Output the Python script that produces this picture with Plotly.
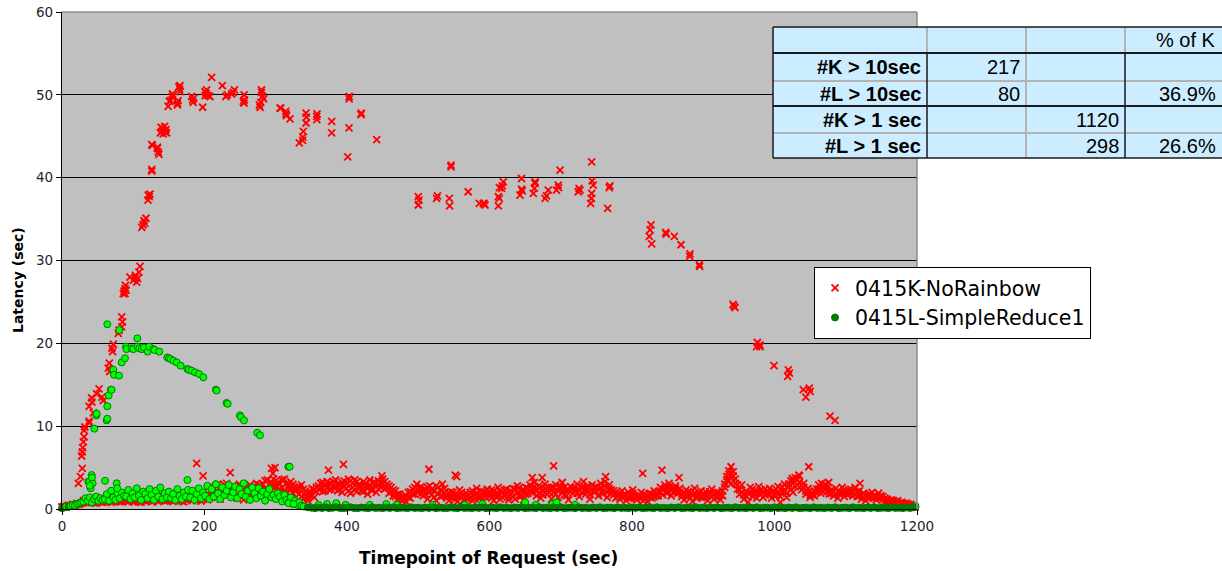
import plotly.graph_objects as go

# ---------------- data: 0415K-NoRainbow (red) ----------------
k_arc_x = [23, 26, 28.5, 27.6, 28.5, 29, 30, 31, 31, 32, 38, 38, 44, 38, 41.6, 42, 48.7, 52, 58, 56,
           65, 66.4, 67, 70, 72, 71, 79, 80, 83.8, 83.8, 85, 86, 88.4, 88.4, 89, 87, 90, 95.4, 100, 102.5, 104.8, 106, 103, 109.5, 108,
           112, 113.7, 115, 117.9, 116, 120.7, 121, 122.5, 123.5,
           126, 126, 127, 126, 133.8, 134, 135, 136,
           138, 140, 141, 142, 143, 144, 145, 146, 139, 147,
           149, 150.6, 152.5, 155, 155, 162, 163, 162, 164, 165.6, 165, 166,
           182, 183.4, 184, 185, 197.4, 200.7, 202, 201, 203, 205, 207.7, 210, 225, 230, 232, 240.4, 242, 238, 254.5, 255.4, 255.7, 256, 277, 278, 279, 280, 280, 281.4, 283,
           306, 307, 314, 314.4, 315, 320,
           333, 337.8, 338, 338.7, 342.5, 342.5, 343, 357.5, 357.7, 358, 378.5, 378.5, 401, 402.8, 403, 403, 419.6, 420, 441.7,
           500, 500, 501, 525.8, 527, 543.6, 544, 546, 546, 570, 585.7, 592, 593.7, 591.3, 612.4, 613.8, 612.4, 613.8, 617, 619.4, 618,
           645, 642.8, 645, 646, 661.5, 664, 664, 663, 678, 682.5, 680, 694, 696.5, 699, 697, 724.6, 725.6, 727, 743.4, 745.6, 743.4, 742, 743, 744, 768, 769, 765.8,
           826.7, 825.3, 824.3, 827.6, 847.3, 848, 859.4, 868.8, 881.4, 881, 894.5, 895, 941.8, 944.6, 943, 975, 976, 979.6, 979.6, 999.3, 1019.4, 1018.5, 1021, 1040.4, 1048.8, 1050, 1044, 1077.9, 1085]
k_arc_y = [3.1, 3.9, 4.9, 6.4, 6.9, 7.4, 8.1, 8.7, 9.5, 9.9, 10.4, 10.6, 11.6, 12.4, 13.4, 12.9, 13.9, 14.5, 13.1, 13.5,
           17.0, 17.6, 16.6, 19.4, 19.9, 19.0, 21.2, 21.6, 22.0, 23.2, 22.6, 26.0, 26.0, 26.6, 27.0, 26.3, 26.4, 28.0, 27.6, 27.9, 27.4, 27.8, 28.2, 29.3, 28.6,
           34.0, 34.3, 34.8, 35.1, 34.5, 37.3, 37.9, 37.7, 38.0,
           40.8, 41.0, 43.9, 44.0, 43.5, 43.7, 43.1, 42.8,
           45.4, 45.6, 45.9, 45.3, 45.7, 46.2, 45.5, 45.8, 46.1, 45.4,
           48.6, 49.2, 49.3, 49.8, 50.1, 49.0, 49.3, 48.8, 51.0, 51.1, 50.7, 50.4,
           49.8, 49.4, 49.1, 49.6, 48.5, 50.4, 50.2, 49.9, 50.6, 49.9, 49.8, 52.1, 51.1, 49.8, 50.0, 50.3, 50.6, 50.1, 49.2, 49.0, 50.0, 49.4, 48.8, 48.5, 49.1, 50.3, 50.6, 49.8, 49.5,
           48.4, 48.4, 48.0, 47.7, 47.5, 47.1,
           44.2, 44.5, 44.9, 45.6, 46.6, 47.8, 47.3, 47.4, 47.0, 47.7, 46.8, 45.4, 42.5, 46.0, 49.5, 49.8, 47.6, 47.8, 44.6,
           37.7, 36.7, 37.3, 37.5, 37.8, 37.5, 36.6, 41.3, 41.5, 38.3, 36.9, 36.9, 36.7, 36.9, 36.6, 37.5, 37.7, 38.8, 38.7, 39.5, 39.0,
           39.9, 37.9, 38.6, 38.4, 38.1, 39.3, 39.5, 38.7, 37.5, 38.5, 37.8, 38.5, 39.1, 40.9, 38.8, 38.3, 38.7, 38.5, 41.9, 39.1, 38.1, 36.9, 37.5, 39.6, 38.8, 39.0, 36.3,
           34.3, 33.7, 32.9, 32.0, 33.4, 33.2, 32.9, 31.9, 30.8, 30.5, 29.5, 29.3, 24.7, 24.3, 24.5, 19.6, 20.1, 19.6, 19.8, 17.3, 16.8, 16.0, 16.4, 14.4, 14.6, 14.2, 13.5, 11.2, 10.7]

k_band_x = [0, 3, 6, 9, 12, 15, 18, 21, 24, 27,
            30, 33, 36, 39, 42, 45, 48, 51, 54, 57,
            60, 63, 66, 69, 72, 75, 78, 81, 84, 87,
            90, 93, 96, 99, 102, 105, 108, 111, 114, 117,
            120, 123, 126, 129, 132, 135, 138, 141, 144, 147,
            150, 153, 156, 159, 162, 165, 168, 171, 174, 177,
            180, 183, 186, 189, 192, 195, 198, 201, 204, 207,
            210, 213, 216, 219, 222, 225, 228, 231, 234, 237,
            240, 243, 246, 249, 252, 255, 258, 261, 264, 267,
            270, 273, 276, 279, 282, 285, 288, 291, 294, 297,
            300, 303, 306, 309, 312, 315, 318, 321, 324, 327,
            330, 333, 336, 339, 342, 345, 348, 351, 354, 357,
            360, 363, 366, 369, 372, 375, 378, 381, 384, 387,
            390, 393, 396, 399, 402, 405, 408, 411, 414, 417,
            420, 423, 426, 429, 432, 435, 438, 441, 444, 447,
            450, 453, 456, 459, 462, 465, 468, 471, 474, 477,
            480, 483, 486, 489, 492, 495, 498, 501, 504, 507,
            510, 513, 516, 519, 522, 525, 528, 531, 534, 537,
            540, 543, 546, 549, 552, 555, 558, 561, 564, 567,
            570, 573, 576, 579, 582, 585, 588, 591, 594, 597,
            600, 603, 606, 609, 612, 615, 618, 621, 624, 627,
            630, 633, 636, 639, 642, 645, 648, 651, 654, 657,
            660, 663, 666, 669, 672, 675, 678, 681, 684, 687,
            690, 693, 696, 699, 702, 705, 708, 711, 714, 717,
            720, 723, 726, 729, 732, 735, 738, 741, 744, 747,
            750, 753, 756, 759, 762, 765, 768, 771, 774, 777,
            780, 783, 786, 789, 792, 795, 798, 801, 804, 807,
            810, 813, 816, 819, 822, 825, 828, 831, 834, 837,
            840, 843, 846, 849, 852, 855, 858, 861, 864, 867,
            870, 873, 876, 879, 882, 885, 888, 891, 894, 897,
            900, 903, 906, 909, 912, 915, 918, 921, 924, 927,
            930, 933, 936, 939, 942, 945, 948, 951, 954, 957,
            960, 963, 966, 969, 972, 975, 978, 981, 984, 987,
            990, 993, 996, 999, 1002, 1005, 1008, 1011, 1014, 1017,
            1020, 1023, 1026, 1029, 1032, 1035, 1038, 1041, 1044, 1047,
            1050, 1053, 1056, 1059, 1062, 1065, 1068, 1071, 1074, 1077,
            1080, 1083, 1086, 1089, 1092, 1095, 1098, 1101, 1104, 1107,
            1110, 1113, 1116, 1119, 1122, 1125, 1128, 1131, 1134, 1137,
            1140, 1143, 1146, 1149, 1152, 1155, 1158, 1161, 1164, 1167,
            1170, 1173, 1176, 1179, 1182, 1185, 1188, 1191, 1194, 1197]
k_band_y = [0.2, 0.3, 0.25, 0.4, 0.35, 0.5, 0.45, 0.6, 0.55, 0.7,
            0.75, 1.1, 0.9, 1.2, 0.8, 1.0, 0.7, 1.15, 0.85, 1.05,
            0.9, 1.25, 1.0, 0.8, 1.2, 0.95, 1.3, 0.85, 1.1, 1.0,
            1.2, 0.85, 1.35, 1.0, 0.9, 1.3, 1.1, 0.8, 1.25, 0.95,
            1.0, 1.5, 0.85, 1.3, 1.6, 0.9, 1.2, 1.45, 0.95, 1.35,
            1.1, 1.6, 0.9, 1.4, 1.7, 1.0, 1.3, 0.85, 1.55, 1.2,
            1.5, 1.0, 1.8, 1.2, 1.6, 0.95, 1.9, 1.3, 1.1, 1.7,
            1.4, 2.6, 1.8, 3.0, 1.2, 2.2, 2.9, 1.6, 2.5, 2.0,
            2.8, 1.5, 2.3, 3.0, 1.8, 1.1, 2.6, 2.0, 2.9, 1.4,
            2.2, 3.1, 1.6, 2.7, 2.0, 3.4, 2.4, 1.9, 3.2, 2.8,
            3.4, 2.2, 3.0, 2.6, 3.6, 2.0, 2.9, 3.3, 1.9, 2.5,
            2.6, 1.8, 2.9, 1.2, 2.2, 1.0, 1.6, 2.5, 1.4, 2.1,
            2.4, 3.1, 2.1, 2.8, 3.3, 2.3, 3.0, 2.6, 3.5, 2.2,
            2.9, 2.0, 3.4, 2.5, 3.6, 1.9, 3.1, 2.3, 3.3, 2.7,
            2.2, 3.3, 2.7, 1.8, 3.5, 2.4, 3.0, 2.0, 3.4, 2.6,
            3.6, 2.4, 3.0, 1.9, 2.6, 1.6, 2.2, 1.2, 1.8, 1.0,
            1.5, 0.9, 2.0, 1.3, 2.4, 1.8, 3.0, 2.2, 2.7, 1.6,
            2.4, 1.2, 2.8, 1.7, 2.2, 1.0, 2.6, 1.5, 3.0, 2.0,
            1.6, 1.0, 2.1, 1.3, 1.8, 0.9, 2.3, 1.4, 1.1, 1.9,
            1.2, 2.0, 1.0, 1.7, 2.5, 1.3, 2.2, 0.9, 1.8, 2.4,
            1.5, 2.3, 1.0, 1.9, 2.6, 1.2, 2.0, 1.6, 2.4, 1.1,
            1.8, 2.5, 1.2, 2.8, 1.5, 2.2, 1.1, 2.6, 1.9, 2.9,
            2.4, 3.2, 1.6, 2.8, 1.3, 2.2, 3.0, 1.8, 2.5, 1.2,
            2.0, 2.9, 1.4, 2.5, 3.2, 1.7, 2.3, 1.1, 2.7, 1.9,
            2.2, 3.0, 1.5, 2.6, 3.3, 1.8, 2.4, 1.2, 2.9, 2.0,
            2.7, 1.6, 3.1, 2.1, 3.3, 1.4, 2.5, 1.9, 2.2, 1.3,
            1.8, 1.2, 2.2, 1.5, 1.0, 2.0, 1.3, 2.3, 1.6, 1.1,
            1.4, 2.0, 1.0, 1.7, 0.9, 1.9, 1.3, 2.2, 1.6, 2.1,
            2.6, 1.7, 2.9, 2.2, 3.1, 1.6, 2.4, 2.8, 1.9, 2.5,
            1.8, 1.1, 2.3, 1.5, 2.0, 0.9, 2.5, 1.3, 1.7, 2.2,
            1.4, 2.1, 1.0, 1.8, 2.4, 1.2, 2.0, 1.5, 1.1, 2.2,
            2.6, 3.5, 4.2, 3.0, 4.5, 3.6, 2.4, 1.8, 2.9, 1.2,
            2.1, 0.8, 2.6, 1.5, 2.2, 1.3, 2.7, 1.8, 1.4, 2.4,
            1.9, 2.5, 1.3, 2.2, 1.6, 2.7, 0.8, 2.1, 3.0, 1.4,
            2.6, 3.4, 2.0, 3.8, 2.9, 4.0, 2.3, 3.1, 1.8, 2.5,
            1.4, 2.0, 1.6, 2.4, 2.9, 1.9, 2.6, 3.0, 2.2, 1.8,
            2.3, 1.6, 2.5, 1.3, 2.0, 2.6, 1.5, 2.2, 1.8, 2.4,
            2.0, 2.6, 1.5, 2.2, 1.2, 1.9, 1.0, 1.7, 1.4, 2.0,
            1.6, 1.1, 1.9, 1.3, 1.5, 0.9, 1.2, 0.7, 1.1, 0.8,
            0.9, 1.0, 0.6, 0.8, 0.5, 0.7, 0.4, 0.55, 0.3, 0.2]
# a second request at each of the same timepoints (band is two requests deep)
k_band2_y = [0.25, 0.35, 0.3, 0.45, 0.4, 0.55, 0.5, 0.65, 0.6, 0.75,
             1.0, 0.8, 1.15, 0.95, 1.1, 0.75, 1.2, 0.9, 1.0, 0.8,
             1.15, 0.85, 1.05, 1.3, 0.9, 1.2, 1.0, 1.25, 0.9, 1.15,
             1.0, 1.3, 1.1, 0.9, 1.25, 1.05, 0.85, 1.35, 1.0, 1.2,
             1.3, 1.1, 1.55, 1.0, 1.2, 1.4, 1.05, 1.6, 1.25, 1.0,
             1.4, 1.0, 1.3, 1.6, 1.15, 1.5, 0.95, 1.45, 1.1, 1.65,
             1.2, 1.7, 1.4, 1.0, 1.85, 1.5, 1.15, 1.6, 1.75, 1.3,
             2.2, 1.6, 2.8, 2.0, 2.6, 1.7, 2.4, 3.1, 2.1, 2.7,
             2.0, 2.5, 1.3, 2.7, 2.2, 2.9, 1.7, 2.4, 1.9, 2.6,
             2.6, 1.9, 2.9, 2.3, 3.0, 2.5, 3.5, 2.1, 2.7, 3.6,
             2.7, 3.2, 2.4, 3.5, 2.1, 3.1, 2.6, 2.3, 3.0, 2.2,
             2.3, 2.7, 1.5, 2.4, 1.8, 1.3, 2.0, 1.7, 2.3, 2.6,
             2.8, 2.5, 3.2, 2.2, 2.6, 3.1, 2.4, 3.3, 2.7, 3.0,
             2.4, 3.2, 2.7, 3.0, 2.2, 3.4, 2.6, 3.5, 2.1, 3.0,
             2.8, 2.1, 3.1, 2.5, 2.9, 2.2, 3.3, 2.7, 2.4, 3.1,
             3.1, 3.3, 2.6, 2.8, 2.1, 2.3, 1.5, 1.8, 1.3, 1.4,
             1.1, 1.6, 1.4, 2.1, 1.8, 2.6, 2.0, 2.5, 1.8, 2.3,
             1.8, 2.6, 2.0, 2.4, 1.4, 2.8, 1.8, 2.3, 1.6, 2.5,
             1.3, 1.9, 1.5, 2.0, 1.2, 1.7, 1.5, 2.0, 1.6, 1.3,
             1.6, 1.4, 2.2, 1.2, 1.9, 1.6, 1.4, 2.1, 1.5, 1.9,
             1.9, 1.3, 2.2, 1.5, 1.8, 2.2, 1.4, 2.3, 1.8, 1.5,
             2.2, 1.5, 2.4, 1.9, 2.6, 1.6, 2.3, 1.8, 2.5, 2.1,
             2.0, 2.7, 2.2, 1.9, 2.6, 1.7, 2.5, 2.3, 2.0, 2.6,
             2.6, 1.8, 2.2, 2.8, 2.0, 2.6, 1.6, 2.3, 2.1, 2.5,
             2.6, 1.9, 2.3, 2.0, 2.7, 2.2, 2.8, 1.7, 2.4, 2.6,
             2.2, 2.4, 2.6, 1.8, 2.8, 2.0, 2.9, 2.3, 1.7, 2.0,
             1.5, 1.9, 1.4, 1.8, 1.6, 1.3, 1.7, 1.9, 1.3, 1.5,
             1.6, 1.3, 1.8, 1.2, 1.5, 1.4, 1.8, 1.5, 1.9, 1.6,
             2.0, 2.3, 2.5, 1.9, 2.7, 2.3, 2.0, 2.5, 2.2, 2.0,
             1.5, 1.9, 1.6, 2.1, 1.3, 1.7, 1.9, 1.6, 2.0, 1.4,
             1.8, 1.5, 1.6, 2.1, 1.5, 1.8, 1.4, 2.0, 1.7, 1.6,
             3.0, 3.9, 3.4, 3.8, 4.0, 3.1, 2.9, 2.3, 2.0, 1.7,
             1.6, 1.9, 2.0, 2.4, 1.8, 2.1, 1.9, 2.3, 2.0, 1.7,
             2.2, 1.8, 2.0, 1.7, 2.4, 1.9, 1.5, 2.6, 2.2, 1.9,
             3.0, 2.3, 3.4, 2.7, 3.5, 3.2, 2.8, 2.6, 2.2, 2.0,
             1.7, 1.7, 2.2, 2.0, 2.4, 2.3, 2.1, 2.5, 2.6, 2.1,
             1.9, 2.1, 1.8, 2.2, 1.7, 2.0, 2.1, 1.8, 2.3, 1.9,
             1.6, 1.8, 2.1, 1.6, 1.7, 1.4, 1.6, 1.3, 1.8, 1.5,
             1.3, 1.5, 1.4, 1.6, 1.1, 1.3, 0.9, 1.0, 0.9, 1.0,
             0.85, 0.7, 0.75, 0.6, 0.65, 0.5, 0.6, 0.4, 0.35, 0.25]

k_spike_x = [189, 198, 236, 294, 296, 299, 374, 395, 449, 515, 552, 554, 660, 674, 690, 763, 815, 842, 866, 939, 936, 1025, 1034, 1048, 1066, 1076, 1120]
k_spike_y = [5.5, 4.0, 4.4, 4.9, 4.3, 5.0, 4.7, 5.4, 4.0, 4.8, 4.1, 3.9, 3.8, 3.8, 5.2, 3.9, 4.3, 4.7, 3.8, 5.1, 4.6, 3.7, 4.1, 5.1, 3.1, 3.2, 3.1]

# ---------------- data: 0415L-SimpleReduce1 (green) ----------------
l_arc_x = [45.4, 48.3, 48.7, 62.6, 63.6, 63.6, 65.5, 68.6, 69.7, 72, 73, 80, 83.8, 88.4, 63.6, 80.4, 89.8, 90.5, 97.8, 100,
           106, 108.5, 105.7, 112, 115, 120.2, 122.5, 128.2, 130, 136.6, 147.8, 150, 152.5, 156.3, 161, 166.6, 176, 178, 182, 186.7,
           192.3, 198.4, 216, 217, 231, 232.5, 249.8, 251, 255.4, 274, 277.9]
l_arc_y = [9.7, 11.3, 11.5, 10.7, 10.9, 12.4, 13.7, 14.4, 14.4, 16.8, 16.2, 16.1, 17.7, 18.2, 22.3, 21.6, 19.6, 19.3, 19.4, 19.3,
           19.6, 19.4, 20.6, 19.3, 19.5, 19.0, 19.6, 19.3, 19.2, 19.0, 18.3, 18.2, 18.1, 17.9, 17.7, 17.3, 16.9, 16.8, 16.7, 16.5,
           16.3, 15.9, 14.4, 14.3, 12.8, 12.7, 11.3, 11.1, 10.7, 9.2, 8.9]

l_band_x = [0, 3, 6, 9, 12, 15, 18, 21, 24, 27,
            30, 33, 36, 39, 42, 45, 48, 51, 54, 57,
            60, 63, 66, 69, 72, 75, 78, 81, 84, 87,
            90, 93, 96, 99, 102, 105, 108, 111, 114, 117,
            120, 123, 126, 129, 132, 135, 138, 141, 144, 147,
            150, 153, 156, 159, 162, 165, 168, 171, 174, 177,
            180, 183, 186, 189, 192, 195, 198, 201, 204, 207,
            210, 213, 216, 219, 222, 225, 228, 231, 234, 237,
            240, 243, 246, 249, 252, 255, 258, 261, 264, 267,
            270, 273, 276, 279, 282, 285, 288, 291, 294, 297,
            300, 303, 306, 309, 312, 315, 318, 321, 324, 327,
            330, 333, 336, 339]
l_band_y = [0.1, 0.2, 0.3, 0.25, 0.4, 0.5, 0.45, 0.6, 0.7, 0.8,
            0.9, 1.3, 1.0, 1.4, 0.8, 1.2, 1.5, 1.0, 1.3, 1.1,
            1.2, 1.8, 1.0, 2.2, 1.4, 1.1, 1.9, 1.3, 2.0, 1.6,
            1.5, 2.3, 1.2, 1.9, 1.4, 2.5, 1.6, 1.1, 2.1, 1.8,
            1.3, 2.4, 1.7, 1.1, 2.2, 1.5, 2.6, 1.2, 1.9, 1.4,
            2.1, 1.3, 1.8, 1.1, 2.4, 1.6, 1.2, 2.0, 1.5, 2.3,
            1.4, 2.2, 1.1, 1.8, 2.5, 1.3, 2.0, 1.6, 2.8, 1.2,
            2.4, 1.5, 3.0, 1.9, 1.2, 2.6, 1.7, 2.2, 2.9, 1.4,
            2.0, 2.7, 1.3, 2.4, 1.8, 3.1, 1.5, 2.2, 1.1, 2.6,
            1.9, 1.3, 2.5, 1.6, 2.1, 1.0, 1.8, 2.4, 1.4, 1.7,
            1.2, 1.9, 1.5, 0.9, 1.7, 1.1, 0.8, 1.4, 0.6, 1.0,
            0.5, 0.8, 0.4, 0.3]

l_extra_x = [37, 38.3, 40.2, 41.6, 43, 42, 39, 60.4, 76.7, 77.4, 176, 317.6, 319.5, 318, 325,
             360, 372, 385, 398, 432, 455, 470, 520, 565, 590, 650, 665, 688, 694, 720, 1198]
l_extra_y = [3.3, 3.3, 2.5, 4.1, 3.1, 3.8, 2.8, 3.4, 3.1, 2.5, 3.5, 5.1, 5.1, 0.7, 0.6,
             0.5, 0.6, 0.7, 0.5, 0.5, 0.6, 0.5, 0.5, 0.5, 0.6, 0.8, 0.5, 0.6, 0.8, 0.5, 0.3]

l_flat_x = [345, 350, 355, 360, 365, 370, 375, 380, 385, 390,
            395, 400, 405, 410, 415, 420, 425, 430, 435, 440,
            445, 450, 455, 460, 465, 470, 475, 480, 485, 490,
            495, 500, 505, 510, 515, 520, 525, 530, 535, 540,
            545, 550, 555, 560, 565, 570, 575, 580, 585, 590,
            595, 600, 605, 610, 615, 620, 625, 630, 635, 640,
            645, 650, 655, 660, 665, 670, 675, 680, 685, 690,
            695, 700, 705, 710, 715, 720, 725, 730, 735, 740,
            745, 750, 755, 760, 765, 770, 775, 780, 785, 790,
            795, 800, 805, 810, 815, 820, 825, 830, 835, 840,
            845, 850, 855, 860, 865, 870, 875, 880, 885, 890,
            895, 900, 905, 910, 915, 920, 925, 930, 935, 940,
            945, 950, 955, 960, 965, 970, 975, 980, 985, 990,
            995, 1000, 1005, 1010, 1015, 1020, 1025, 1030, 1035, 1040,
            1045, 1050, 1055, 1060, 1065, 1070, 1075, 1080, 1085, 1090,
            1095, 1100, 1105, 1110, 1115, 1120, 1125, 1130, 1135, 1140,
            1145, 1150, 1155, 1160, 1165, 1170, 1175, 1180, 1185, 1190, 1195]
l_flat_y = [0.2, 0.15, 0.1, 0.18, 0.12, 0.2, 0.1, 0.15, 0.22, 0.12,
            0.1, 0.16, 0.2, 0.12, 0.1, 0.18, 0.14, 0.1, 0.2, 0.12,
            0.15, 0.1, 0.18, 0.12, 0.2, 0.1, 0.14, 0.16, 0.1, 0.2,
            0.12, 0.15, 0.1, 0.18, 0.12, 0.2, 0.1, 0.16, 0.12, 0.1,
            0.18, 0.14, 0.1, 0.2, 0.12, 0.15, 0.1, 0.18, 0.12, 0.2,
            0.1, 0.14, 0.16, 0.1, 0.2, 0.12, 0.15, 0.1, 0.18, 0.12,
            0.2, 0.1, 0.14, 0.16, 0.1, 0.2, 0.12, 0.15, 0.1, 0.18,
            0.12, 0.2, 0.1, 0.14, 0.16, 0.1, 0.2, 0.12, 0.15, 0.1,
            0.18, 0.12, 0.2, 0.1, 0.14, 0.16, 0.1, 0.2, 0.12, 0.15,
            0.1, 0.18, 0.12, 0.2, 0.1, 0.14, 0.16, 0.1, 0.2, 0.12,
            0.15, 0.1, 0.18, 0.12, 0.2, 0.1, 0.14, 0.16, 0.1, 0.2,
            0.12, 0.15, 0.1, 0.18, 0.12, 0.2, 0.1, 0.14, 0.16, 0.1,
            0.2, 0.12, 0.15, 0.1, 0.18, 0.12, 0.2, 0.1, 0.14, 0.16,
            0.1, 0.2, 0.12, 0.15, 0.1, 0.18, 0.12, 0.2, 0.1, 0.14,
            0.16, 0.1, 0.2, 0.12, 0.15, 0.1, 0.18, 0.12, 0.2, 0.1,
            0.14, 0.16, 0.1, 0.2, 0.12, 0.15, 0.1, 0.18, 0.12, 0.2,
            0.1, 0.14, 0.16, 0.1, 0.2, 0.12, 0.15, 0.1, 0.18, 0.12, 0.2]

# ---------------- table values ----------------
table_header = ["", "", "", "% of K"]
table_labels = ["#K > 10sec", "#L > 10sec", "#K > 1 sec", "#L > 1 sec"]
table_col1 = ["217", "80", "", ""]
table_col2 = ["", "", "1120", "298"]
table_col3 = ["", "36.9%", "", "26.6%"]

series_names = ["0415K-NoRainbow", "0415L-SimpleReduce1"]

# ---------------- layout helpers ----------------
W, H = 1222, 571
ML, MR, MT, MB = 62, 305, 12, 62
PX0, PX1, PY0, PY1 = ML, W - MR, MT, H - MB


def px(v):
    return (v - PX0) / (PX1 - PX0)


def py(v):
    return (PY1 - v) / (PY1 - PY0)


k_x = k_arc_x + k_band_x + k_band_x + k_spike_x
k_y = k_arc_y + k_band_y + k_band2_y + k_spike_y
l_x = l_band_x + l_extra_x + l_arc_x + l_flat_x
l_y = l_band_y + l_extra_y + l_arc_y + l_flat_y
l_fill = ["#008000" if v < 0.3 else "#00FF00" for v in l_y]

fig = go.Figure()
fig.add_trace(go.Scatter(
    x=k_x, y=k_y, mode="markers", name=series_names[0], cliponaxis=False,
    marker=dict(symbol="x-thin", size=7, color="#FF0000",
                line=dict(color="#FF0000", width=1.8)),
))
fig.add_trace(go.Scatter(
    x=l_x, y=l_y, mode="markers", name=series_names[1], cliponaxis=False,
    marker=dict(symbol="circle", size=7, color=l_fill,
                line=dict(color="#007A00", width=1)),
))

shapes = []
shapes.append(dict(type="line", xref="paper", yref="paper", x0=0, x1=1, y0=1, y1=1,
                   line=dict(color="#8C8C8C", width=1.5)))
shapes.append(dict(type="line", xref="paper", yref="paper", x0=1, x1=1, y0=0, y1=1,
                   line=dict(color="#8C8C8C", width=1.5)))

# table
TL, TR, TT, TB = 773, 1240, 27, 158
row_y = [27, 53, 81, 106, 133, 158]
shapes.append(dict(type="rect", xref="paper", yref="paper", x0=px(TL), x1=px(TR), y0=py(TB), y1=py(TT),
                   fillcolor="#CCECFF", line=dict(width=0), layer="above"))
gray = "#B4B4B4"
dark = "#1A1A1A"
for r in (81, 133):
    shapes.append(dict(type="line", xref="paper", yref="paper", x0=px(TL), x1=px(TR), y0=py(r), y1=py(r),
                       line=dict(color=gray, width=2)))
for c in (927, 1026, 1125):
    shapes.append(dict(type="line", xref="paper", yref="paper", x0=px(c), x1=px(c), y0=py(TT), y1=py(53),
                       line=dict(color=gray, width=2)))
shapes.append(dict(type="line", xref="paper", yref="paper", x0=px(1026), x1=px(1026), y0=py(53), y1=py(TB),
                   line=dict(color=gray, width=2)))
for c in (927, 1125):
    shapes.append(dict(type="line", xref="paper", yref="paper", x0=px(c), x1=px(c), y0=py(53), y1=py(TB),
                       line=dict(color=dark, width=1.5)))
for r in (53, 106):
    shapes.append(dict(type="line", xref="paper", yref="paper", x0=px(TL), x1=px(TR), y0=py(r), y1=py(r),
                       line=dict(color=dark, width=2)))
for r in (TT, TB):
    shapes.append(dict(type="line", xref="paper", yref="paper", x0=px(TL), x1=px(TR), y0=py(r), y1=py(r),
                       line=dict(color=dark, width=1.5)))
shapes.append(dict(type="line", xref="paper", yref="paper", x0=px(TL), x1=px(TL), y0=py(TB), y1=py(TT),
                   line=dict(color=dark, width=1.5)))

annotations = []
tfont = dict(family="Liberation Sans, Arial, sans-serif", size=20, color="#000000")
row_centers = [(row_y[i] + row_y[i + 1]) / 2 for i in range(5)]
annotations.append(dict(x=px(1218), y=py(row_centers[0]), xref="paper", yref="paper", text=table_header[3],
                        xanchor="right", yanchor="middle", showarrow=False, font=tfont))
for i in range(4):
    yc = py(row_centers[i + 1])
    annotations.append(dict(x=px(923), y=yc, xref="paper", yref="paper", text="<b>%s</b>" % table_labels[i],
                            xanchor="right", yanchor="middle", showarrow=False, font=tfont))
    for txt, xr in ((table_col1[i], 1022), (table_col2[i], 1121), (table_col3[i], 1218)):
        if txt:
            annotations.append(dict(x=px(xr), y=yc, xref="paper", yref="paper", text=txt,
                                    xanchor="right", yanchor="middle", showarrow=False, font=tfont))

annotations.append(dict(x=px(488), y=py(558), xref="paper", yref="paper", text="Timepoint of Request (sec)",
                        xanchor="center", yanchor="middle", showarrow=False,
                        font=dict(family="DejaVu Sans, Verdana, sans-serif", size=17, color="#000000", weight="bold")))
annotations.append(dict(x=px(18), y=py(280), xref="paper", yref="paper", text="Latency (sec)", textangle=-90,
                        xanchor="center", yanchor="middle", showarrow=False,
                        font=dict(family="DejaVu Sans, Verdana, sans-serif", size=14, color="#000000", weight="bold")))

tick_font = dict(family="DejaVu Sans, Verdana, sans-serif", size=13.5, color="#1E1E32")

fig.update_layout(
    width=W, height=H, autosize=False,
    margin=dict(l=ML, r=MR, t=MT, b=MB, pad=0, autoexpand=False),
    paper_bgcolor="#FFFFFF", plot_bgcolor="#C0C0C0",
    showlegend=True,
    legend=dict(x=px(814), y=py(267), xanchor="left", yanchor="top",
                bgcolor="#FFFFFF", bordercolor="#000000", borderwidth=1,
                font=dict(family="DejaVu Sans, Verdana, sans-serif", size=20.5, color="#000000"),
                tracegroupgap=0, itemwidth=30),
    xaxis=dict(range=[0, 1200], tickmode="linear", tick0=0, dtick=200, showgrid=False, zeroline=False,
               showline=True, linecolor="#000000", linewidth=1.2, ticks="outside", ticklen=5,
               tickcolor="#000000", tickfont=tick_font, fixedrange=True, automargin=False),
    yaxis=dict(range=[0, 60], tickmode="linear", tick0=0, dtick=10, showgrid=True, gridcolor="#000000",
               gridwidth=1.2, zeroline=False, showline=True, linecolor="#000000", linewidth=1.2,
               ticks="outside", ticklen=5, tickcolor="#000000", tickfont=tick_font, fixedrange=True,
               automargin=False),
    shapes=shapes,
    annotations=annotations,
)

# remove the browser's default 8px body margin so the figure fills the window exactly
fig.write_html("out.html", config={"displayModeBar": False},
               post_script="document.body.style.margin='0';document.body.style.overflow='hidden';")
